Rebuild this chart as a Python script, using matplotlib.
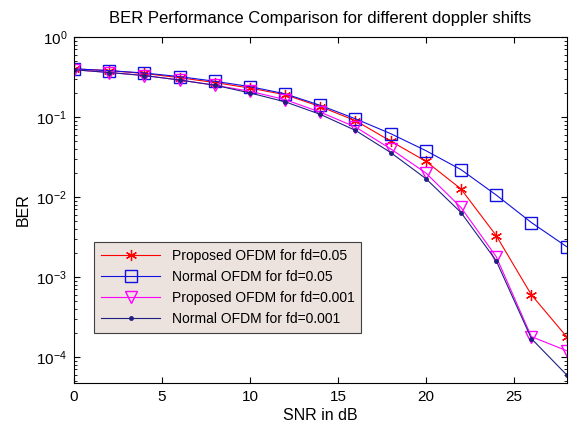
import numpy as np
import matplotlib
matplotlib.use("Agg")
import matplotlib.pyplot as plt
from matplotlib.ticker import LogLocator, NullFormatter

plt.rcParams['font.family'] = ['Liberation Sans', 'DejaVu Sans']

snr = [0, 2, 4, 6, 8, 10, 12, 14, 16, 18, 20, 22, 24, 26, 28]
ber_prop_005 = [0.40, 0.38, 0.35, 0.31, 0.27, 0.23, 0.19, 0.135, 0.09, 0.05, 0.028, 0.0126, 0.0033, 0.0006, 0.00018]
ber_norm_005 = [0.40, 0.38, 0.355, 0.32, 0.28, 0.24, 0.195, 0.14, 0.095, 0.062, 0.038, 0.022, 0.0106, 0.0048, 0.0024]
ber_prop_0001 = [0.39, 0.36, 0.33, 0.29, 0.25, 0.21, 0.165, 0.115, 0.075, 0.04, 0.020, 0.0074, 0.0018, 0.00018, 0.00012]
ber_norm_0001 = [0.39, 0.36, 0.33, 0.29, 0.25, 0.20, 0.155, 0.108, 0.068, 0.036, 0.017, 0.0064, 0.0016, 0.00017, 0.00006]

labels = ['Proposed OFDM for fd=0.05', 'Normal OFDM for fd=0.05',
          'Proposed OFDM for fd=0.001', 'Normal OFDM for fd=0.001']

fig = plt.figure(figsize=(5.74, 4.28), dpi=100)
ax = fig.add_axes([0.129, 0.1051, 0.858, 0.8084])

lw = 0.8
# asterisk marker like matlab '*'
ax.semilogy(snr, ber_prop_005, color='red', marker=(6, 2, 0), markersize=8, mew=0.9, lw=lw, label=labels[0])
ax.semilogy(snr, ber_norm_005, color='#1010e0', marker='s', markersize=8, mfc='none', mew=1.0, lw=lw, label=labels[1])
ax.semilogy(snr, ber_prop_0001, color='#ff00ff', marker='v', markersize=8, mfc='none', mew=1.0, lw=lw, label=labels[2])
ax.semilogy(snr, ber_norm_0001, color='#202080', marker='.', markersize=5, lw=lw, label=labels[3])

ax.set_xlim(0, 28)
ax.set_ylim(10 ** -4.325, 1)
ax.set_xticks([0, 5, 10, 15, 20, 25])
ax.yaxis.set_major_locator(LogLocator(base=10, numticks=10))
ax.yaxis.set_minor_locator(LogLocator(base=10, subs=np.arange(2, 10), numticks=20))
ax.yaxis.set_minor_formatter(NullFormatter())
ax.tick_params(which='both', direction='in', top=True, right=True, labelsize=11)
ax.tick_params(which='major', length=4, pad=5)
ax.tick_params(which='minor', length=2)

ax.set_xlabel('SNR in dB', fontsize=11.5, labelpad=3)
ax.set_ylabel('BER', fontsize=11.5, labelpad=4)
ax.set_title('BER Performance Comparison for different doppler shifts', fontsize=12, pad=10)

leg = ax.legend(loc='lower left', bbox_to_anchor=(0.026, 0.125), fontsize=10,
                fancybox=False, framealpha=1, edgecolor='#404040',
                handlelength=4.3, labelspacing=0.5, borderpad=0.5)
leg.get_frame().set_facecolor('#ece2de')
leg.get_frame().set_linewidth(0.8)

fig.savefig('out.png', dpi=100)
